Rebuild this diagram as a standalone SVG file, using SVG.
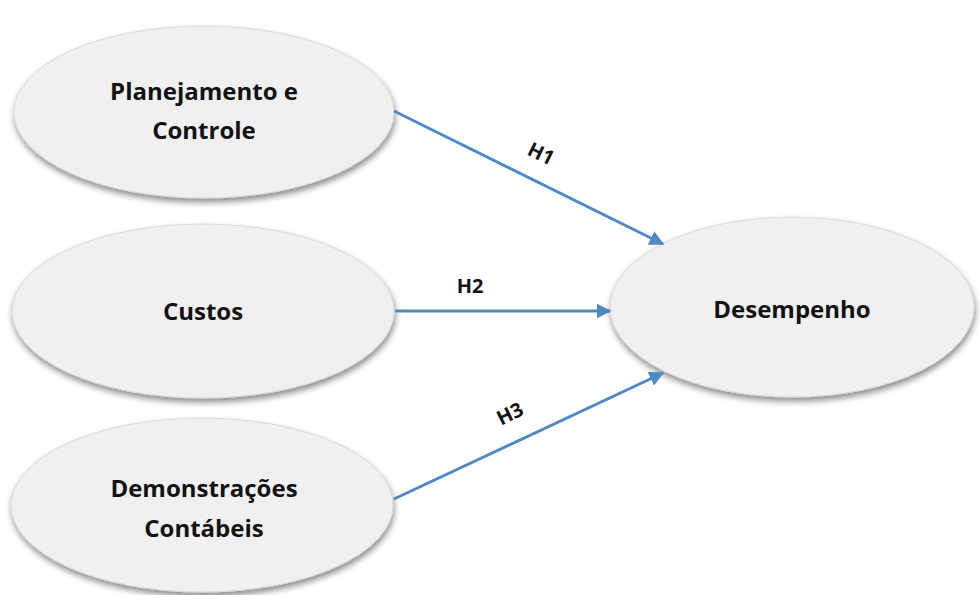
<svg xmlns="http://www.w3.org/2000/svg" width="980" height="595" viewBox="0 0 980 595">
<style>
.node ellipse{fill:#f0f0f0;stroke:#d8d8d8;stroke-width:1;filter:url(#sh)}
.lbl{font-family:"Open Sans","Liberation Sans",sans-serif;font-weight:bold;font-size:24px;fill:#111;text-anchor:middle}
.conn line{stroke:#4f88c6;stroke-width:3;marker-end:url(#ah)}
.hl{font-family:"Open Sans","Liberation Sans",sans-serif;font-weight:bold;font-size:20px;fill:#111;text-anchor:middle}
</style>
<defs>
<filter id="sh" x="-10%" y="-10%" width="120%" height="130%">
<feGaussianBlur in="SourceAlpha" stdDeviation="3"/>
<feOffset dx="1" dy="4" result="b"/>
<feComponentTransfer><feFuncA type="linear" slope="0.45"/></feComponentTransfer>
<feMerge><feMergeNode/><feMergeNode in="SourceGraphic"/></feMerge>
</filter>
<marker id="ah" viewBox="0 0 10 10" refX="9" refY="5" markerWidth="5" markerHeight="5" orient="auto" markerUnits="strokeWidth">
<path d="M0,0 L10,5 L0,10 z" fill="#4f88c6"/>
</marker>
</defs>
<rect width="980" height="595" fill="#fff"/>
<g id="n1" class="node"><ellipse cx="204" cy="112" rx="190" ry="86"/><text class="lbl" x="204" y="100">Planejamento e</text><text class="lbl" x="204" y="139">Controle</text></g>
<g id="n2" class="node"><ellipse cx="203" cy="311" rx="191" ry="87"/><text class="lbl" x="203" y="320">Custos</text></g>
<g id="n3" class="node"><ellipse cx="202" cy="505" rx="191" ry="87"/><text class="lbl" x="204" y="497">Demonstrações</text><text class="lbl" x="204" y="537">Contábeis</text></g>
<g id="n4" class="node"><ellipse cx="792" cy="307" rx="182" ry="90"/><text class="lbl" x="792" y="318">Desempenho</text></g>
<g id="connectors" class="conn">
<line x1="394" y1="111" x2="663" y2="244"/>
<line x1="395" y1="311" x2="610" y2="311"/>
<line x1="394" y1="499" x2="663" y2="373"/>
</g>
<g id="labels">
<text class="hl" transform="translate(538,160) rotate(26)">H1</text>
<text class="hl" x="470" y="293">H2</text>
<text class="hl" transform="translate(513,420) rotate(-26)">H3</text>
</g>
</svg>
